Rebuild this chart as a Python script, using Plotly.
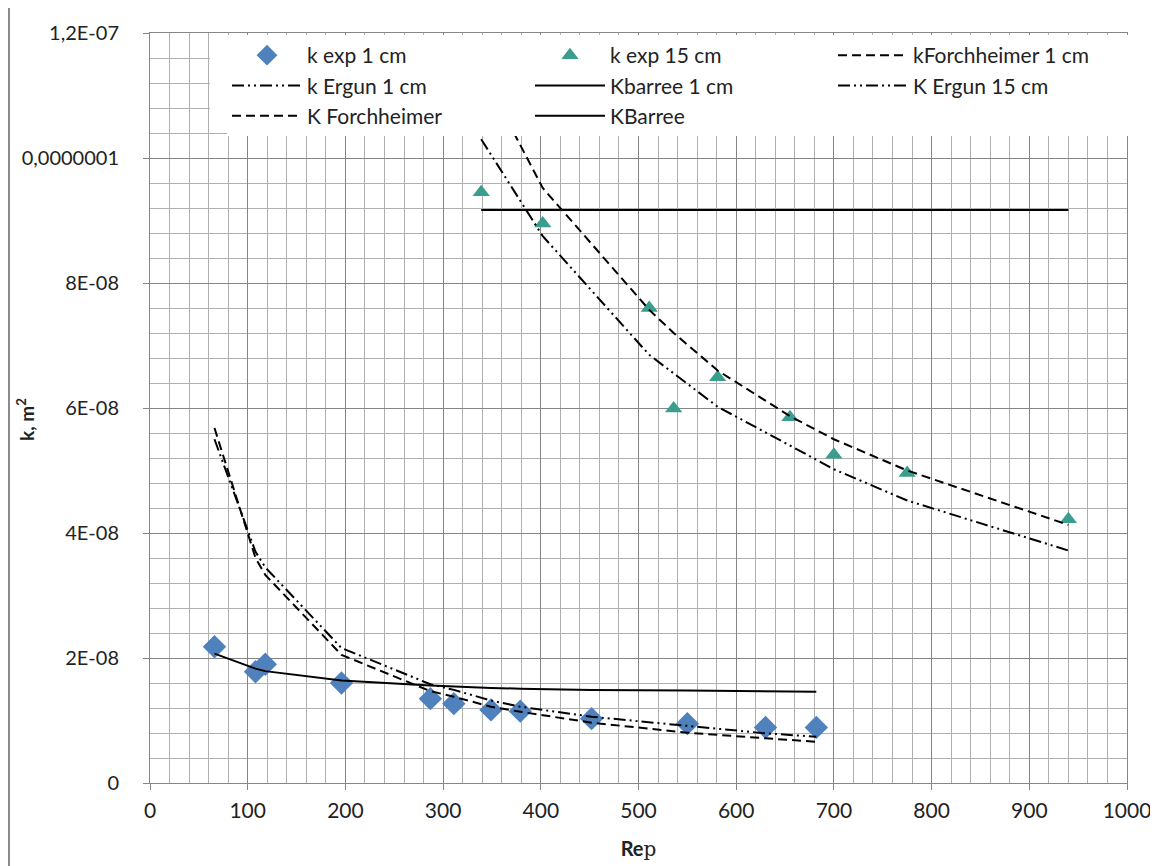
import plotly.graph_objects as go

# ---- data ----
re_1cm = [66, 108, 118, 196, 287, 311, 349, 379, 452, 550, 630, 682]
k_exp_1cm = [2.18e-8, 1.78e-8, 1.90e-8, 1.60e-8, 1.35e-8, 1.27e-8, 1.17e-8, 1.15e-8, 1.03e-8, 0.95e-8, 0.89e-8, 0.89e-8]
k_forch_1cm = [5.68e-8, 3.60e-8, 3.33e-8, 2.05e-8, 1.47e-8, 1.38e-8, 1.22e-8, 1.14e-8, 0.965e-8, 0.805e-8, 0.715e-8, 0.66e-8]
k_ergun_1cm = [5.50e-8, 3.70e-8, 3.45e-8, 2.16e-8, 1.58e-8, 1.49e-8, 1.32e-8, 1.22e-8, 1.06e-8, 0.91e-8, 0.795e-8, 0.74e-8]
k_barree_1cm = [2.07e-8, 1.83e-8, 1.79e-8, 1.64e-8, 1.56e-8, 1.54e-8, 1.52e-8, 1.51e-8, 1.49e-8, 1.48e-8, 1.47e-8, 1.46e-8]

re_15cm = [339, 402, 511, 536, 581, 655, 700, 775, 940]
k_exp_15cm = [9.45e-8, 8.95e-8, 7.60e-8, 5.99e-8, 6.49e-8, 5.85e-8, 5.25e-8, 4.96e-8, 4.22e-8]
k_ergun_15cm = [1.03e-7, 8.75e-8, 6.85e-8, 6.55e-8, 6.02e-8, 5.40e-8, 5.02e-8, 4.52e-8, 3.72e-8]
k_forch_15cm = [1.14e-7, 9.52e-8, 7.57e-8, 7.20e-8, 6.60e-8, 5.87e-8, 5.50e-8, 5.00e-8, 4.13e-8]
k_barree_15cm = [9.17e-8, 9.17e-8, 9.17e-8, 9.17e-8, 9.17e-8, 9.17e-8, 9.17e-8, 9.17e-8, 9.17e-8]

y_tickvals = [0, 2e-8, 4e-8, 6e-8, 8e-8, 1e-7, 1.2e-7]
y_ticktext = ["0", "2E-08", "4E-08", "6E-08", "8E-08", "0,0000001", "1,2E-07"]
x_tickvals = [0, 100, 200, 300, 400, 500, 600, 700, 800, 900, 1000]

FONT = "Lato"
TXT = "#222"
DASHDOTDOT = "12px,4px,2px,4px,2px,4px"
DASH = "9px,5px"

fig = go.Figure()
fig.add_trace(go.Scatter(x=re_1cm, y=k_exp_1cm, mode="markers", name="k exp 1 cm",
                         marker=dict(symbol="diamond", size=18, color="#4F81BD")))
fig.add_trace(go.Scatter(x=re_15cm, y=k_exp_15cm, mode="markers", name="k exp 15 cm",
                         marker=dict(symbol="triangle-up", size=15, color="#3A9E8E")))
fig.add_trace(go.Scatter(x=re_1cm, y=k_forch_1cm, mode="lines", name="kForchheimer 1 cm",
                         line=dict(color="black", width=2, dash=DASH)))
fig.add_trace(go.Scatter(x=re_1cm, y=k_ergun_1cm, mode="lines", name="k Ergun 1 cm",
                         line=dict(color="black", width=2, dash=DASHDOTDOT)))
fig.add_trace(go.Scatter(x=re_1cm, y=k_barree_1cm, mode="lines", name="Kbarree 1 cm",
                         line=dict(color="black", width=2)))
fig.add_trace(go.Scatter(x=re_15cm, y=k_ergun_15cm, mode="lines", name="K Ergun 15 cm",
                         line=dict(color="black", width=2, dash=DASHDOTDOT)))
fig.add_trace(go.Scatter(x=re_15cm, y=k_forch_15cm, mode="lines", name="K Forchheimer",
                         line=dict(color="black", width=2, dash=DASH)))
fig.add_trace(go.Scatter(x=re_15cm, y=k_barree_15cm, mode="lines", name="KBarree",
                         line=dict(color="black", width=2)))

axis_common = dict(
    showline=True, linecolor="#868686", linewidth=1, mirror=True,
    gridcolor="#858585", gridwidth=1, zeroline=False,
    ticks="outside", ticklen=6, tickcolor="#868686",
)

fig.update_xaxes(range=[0, 1000], tickvals=x_tickvals,
                 minor=dict(dtick=20, showgrid=True, gridcolor="#b0b0b0", gridwidth=1),
                 ticklabelstandoff=3, tickfont=dict(family=FONT, size=21, color=TXT),
                 title=dict(text="<b>Re</b><span style=\"font-family:DejaVu Serif\">p</span>",
                            font=dict(family=FONT, size=20, color=TXT), standoff=20),
                 **axis_common)
fig.update_yaxes(range=[0, 1.2e-7], tickvals=y_tickvals, ticktext=y_ticktext,
                 minor=dict(dtick=4e-9, showgrid=True, gridcolor="#b0b0b0", gridwidth=1, tick0=0),
                 ticklabelstandoff=20, tickfont=dict(family=FONT, size=20, color=TXT),
                 **axis_common)

# legend backdrop bounds (in axis units) so the white legend area starts where the reference's does
legend_box_x = [61.4, 999]
legend_box_y = [1.04e-7, 1.1936e-7]

# page body adds an 8px offset; margins compensate so the plot lands where the reference has it
fig.update_layout(
    width=1158, height=866,
    margin=dict(l=142, r=39, t=25, b=91),
    paper_bgcolor="white", plot_bgcolor="white",
    font=dict(family=FONT, size=20, color=TXT),
    legend=dict(orientation="h", x=0.0788, xanchor="left", y=0.9973, yanchor="top",
                bgcolor="white", entrywidth=218, entrywidthmode="pixels",
                itemwidth=70, font=dict(family=FONT, size=21, color=TXT),
                tracegroupgap=0),
    annotations=[dict(text="<b>k, m<sup>2</sup></b>", xref="paper", yref="paper",
                      x=(17 - 142) / 977, y=(775 - 412) / 750, textangle=-90,
                      showarrow=False, xanchor="center", yanchor="middle",
                      font=dict(family=FONT, size=19, color=TXT))],
    shapes=[
        dict(type="line", xref="paper", yref="paper",
             x0=(1 - 142) / 977, x1=(1 - 142) / 977, y0=-91 / 750, y1=(775 + 25) / 750,
             line=dict(color="#8a8a8a", width=2)),
        dict(type="rect", xref="x", yref="y", layer="between",
             x0=legend_box_x[0], x1=legend_box_x[1], y0=legend_box_y[0], y1=legend_box_y[1],
             fillcolor="white", line=dict(width=0)),
    ],
    showlegend=True,
)

fig.write_html("out.html")
